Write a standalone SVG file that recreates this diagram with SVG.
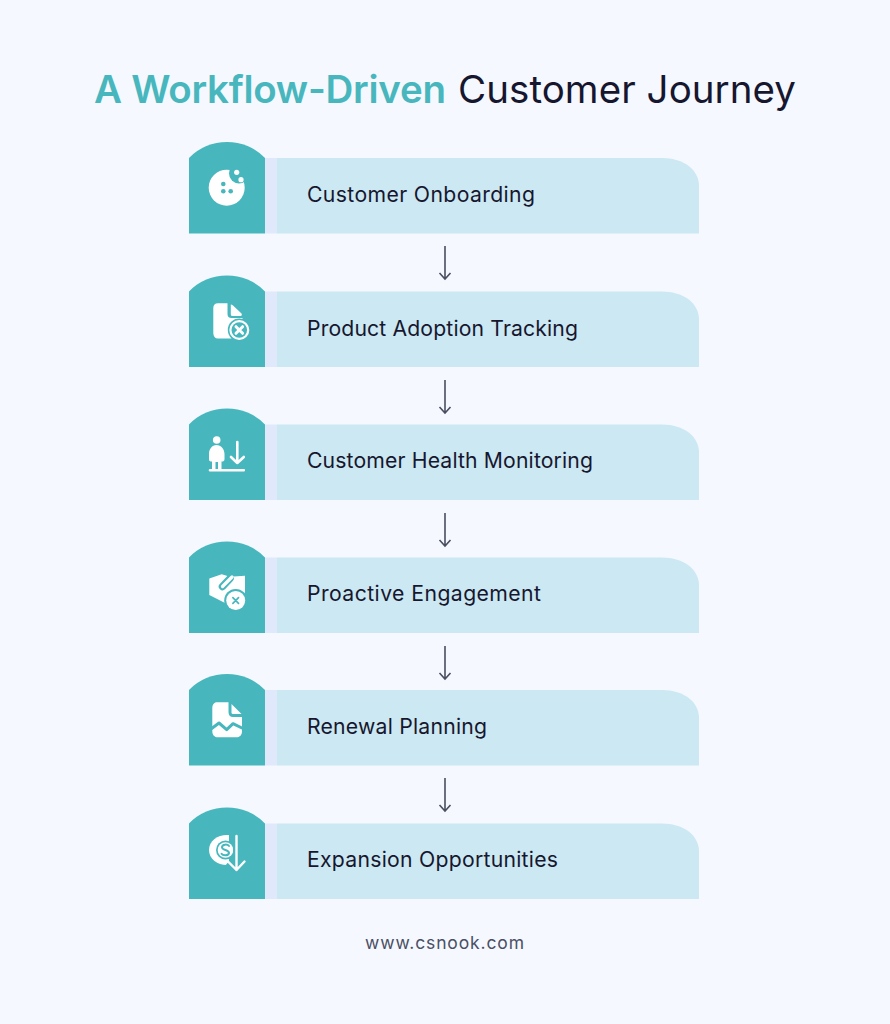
<svg xmlns="http://www.w3.org/2000/svg" width="890" height="1024" viewBox="0 0 890 1024">
<style>
text{font-family:"Inter","Liberation Sans",sans-serif}
.title{font-size:38.5px}
.a{fill:#47b7bd;font-weight:600}
.b{fill:#16172f;font-weight:400}
.label{font-size:21.200px;fill:#16172f}
.url{font-size:17.500px;fill:#4b4f63}
.w{fill:#fff}
.t{fill:#47b7bd}
.ws{fill:none;stroke:#fff;stroke-linecap:round;stroke-linejoin:round}
.ts{fill:none;stroke:#47b7bd;stroke-linecap:round;stroke-linejoin:round}
.arrow{fill:none;stroke:#4a4f60;stroke-width:1.600}
</style>
<defs>
<g id="tab">
<path d="M277 158H662C684 158 699 170 699 186V233.500H277Z" fill="#cce8f2"/>
<rect x="265" y="158" width="12" height="75.500" fill="#e0e9fb"/>
<path d="M189 158A53 53 0 0 1 265 158V233.500H189Z" fill="#47b7bd"/>
</g>
<path id="arr" class="arrow" d="M445 0V33M439.500 27L445 33L450.500 27"/>
</defs>
<rect width="890" height="1024" fill="#f5f8ff"/>
<text class="title a" x="94" y="103" textLength="352">A Workflow-Driven</text>
<text class="title b" x="458" y="103" textLength="338">Customer Journey</text>
<g id="connectors">
<use href="#arr" y="246"/>
<use href="#arr" y="380"/>
<use href="#arr" y="513"/>
<use href="#arr" y="646"/>
<use href="#arr" y="778"/>
</g>
<g id="node1">
<use href="#tab"/>
<circle class="w" cx="226.700" cy="187.700" r="18"/>
<circle class="t" cx="239" cy="173.500" r="10"/>
<circle class="w" cx="236.700" cy="172.300" r="2.600"/>
<circle class="w" cx="241" cy="179.700" r="2.600"/>
<circle class="t" cx="223.300" cy="184" r="2.300"/>
<circle class="t" cx="223.300" cy="191.300" r="2.300"/>
<circle class="t" cx="230.700" cy="191.300" r="2.300"/>
<text class="label" x="307" y="202" textLength="228">Customer Onboarding</text>
</g>
<g id="node2">
<use href="#tab" y="133.500"/>
<path class="w" d="M218 303.300H227.500V314Q227.500 318 231.500 318H242.500V332C242.500 336 240 338.500 236 338.500H218C215 338.500 213.300 336.500 213.300 333V308C213.300 305 215 303.300 218 303.300Z"/>
<path class="w" d="M230.800 304.500Q232 304.500 233 305.500L241.500 313.500Q242.500 315.500 240.500 316H232.500Q230.800 316 230.800 314.500Z"/>
<circle class="t" cx="239.300" cy="330" r="11.500"/>
<circle class="w" cx="239.300" cy="330" r="10"/>
<circle class="t" cx="239.300" cy="330" r="7.800"/>
<path d="M236 326.700L242.600 333.300M242.600 326.700L236 333.300" class="ws" stroke-width="3"/>
<text class="label" x="307" y="336" textLength="271">Product Adoption Tracking</text>
</g>
<g id="node3">
<use href="#tab" y="266.500"/>
<circle class="w" cx="216.700" cy="440" r="3.800"/>
<path class="w" d="M216.500 445C212 445 209 449 209 454V459.500C209 461 210 461.500 212 461.500V470.500H215.500V462H218V470.500H221.500V461.500C223.500 461.500 224.500 461 224.500 459V454C224.500 449 221 445 216.500 445Z"/>
<path class="ws" stroke-width="2.600" d="M210 470.300H243.800M237.300 442V463M231 457L237.300 463L243.800 457"/>
<text class="label" x="307" y="468" textLength="286">Customer Health Monitoring</text>
</g>
<g id="node4">
<use href="#tab" y="399.500"/>
<path class="w" d="M209.300 578.500L221.700 574.300L230 576.700L245 575.700V593L226 603.500L209.300 595Z"/>
<path class="ts" stroke-width="7.500" d="M230 578.500L222.500 586.500"/>
<path class="ws" stroke-width="3.200" d="M232 577L222.500 586.500"/>
<circle class="t" cx="235.700" cy="600.500" r="11.500"/>
<circle class="w" cx="235.700" cy="600.500" r="9.500"/>
<path class="ts" stroke-width="1.700" d="M232.900 597.700L238.500 603.300M238.500 597.700L232.900 603.300"/>
<text class="label" x="307" y="601" textLength="234">Proactive Engagement</text>
</g>
<g id="node5">
<use href="#tab" y="532"/>
<path class="w" d="M217 702.300H228.500V712Q228.500 717 233 717H242V731C242 735 240 737.300 236 737.300H218C214.500 737.300 212.300 735 212.300 731V708C212.300 705 214 702.300 217 702.300Z"/>
<path class="w" d="M231.500 704L241.500 714H233Q231.500 714 231.500 712.500Z"/>
<path class="ts" stroke-width="3" d="M211 729L219 723L226.700 729.700L233 723.700L243 728.500"/>
<text class="label" x="307" y="734" textLength="180">Renewal Planning</text>
</g>
<g id="node6">
<use href="#tab" y="665.500"/>
<path class="w" d="M229 835C219 834 209 840 209 850C209 860 219 866 229 865Z"/>
<circle class="t" cx="225.500" cy="850" r="9.500"/>
<circle class="w" cx="225.500" cy="850" r="7.800"/>
<path class="ts" stroke-width="2" d="M229 846C227.500 844 222.300 844 222 847.200C222 850.500 229 849.500 229 853C228.500 856 223 856 221.500 853.800"/>
<path class="t" d="M233 833H240V858L249 865L237 876L226 864.500L233 858Z"/>
<path class="ws" stroke-width="2.400" d="M236.500 836V870M228 861.500L236.500 870L244.500 861.500"/>
<text class="label" x="307" y="867" textLength="251">Expansion Opportunities</text>
</g>
<text class="url" x="365" y="949" textLength="159">www.csnook.com</text>
</svg>
